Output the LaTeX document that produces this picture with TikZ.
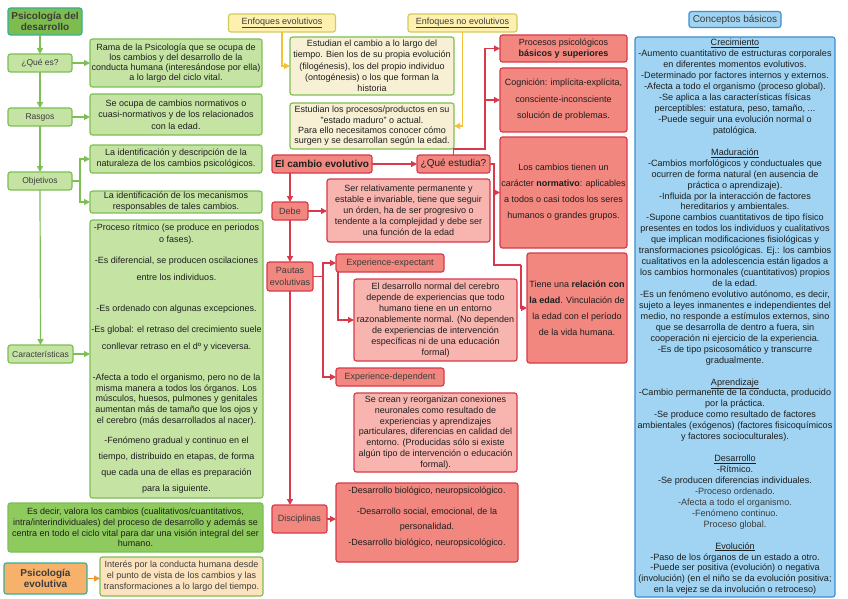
\documentclass[tikz,border=0pt]{standalone}
\usepackage{fontspec}
\setmainfont{Liberation Sans}
\usetikzlibrary{arrows.meta}
\definecolor{txt}{HTML}{1E1E1E}
\definecolor{txtgray}{HTML}{3C3C3C}
\definecolor{gfill}{HTML}{C5E4A4}
\definecolor{gborder}{HTML}{7DBF55}
\definecolor{gdark}{HTML}{7CBD4E}
\definecolor{gmid}{HTML}{8FCA5E}
\definecolor{teal}{HTML}{35B09A}
\definecolor{ofill}{HTML}{F6B26B}
\definecolor{peach}{HTML}{FCE3BE}
\definecolor{yfill}{HTML}{FEF1B0}
\definecolor{yborder}{HTML}{D0CB5E}
\definecolor{cream}{HTML}{F8F0D4}
\definecolor{rfill}{HTML}{F1877F}
\definecolor{pfill}{HTML}{F8B5AF}
\definecolor{rborder}{HTML}{D8394B}
\definecolor{bfill}{HTML}{A0D4F2}
\definecolor{bborder}{HTML}{3D8ED3}
\definecolor{yarrow}{HTML}{F3C13A}
\definecolor{oarrow}{HTML}{F0962E}
\newcommand{\myfs}[2]{\fontsize{#1}{#2}\selectfont}
\begin{document}
\begin{tikzpicture}[x=1pt,y=-1pt,
  box/.style={rounded corners=2.5pt, line width=1.2pt, align=center, inner sep=1pt, outer sep=0pt, text=txt, font=\myfs{9}{11}},
  gbox/.style={box, draw=gborder, fill=gfill},
  glabel/.style={box, draw=gborder, fill=gfill, text=txtgray, font=\myfs{8.5}{10}},
  ybox/.style={box, draw=yborder, fill=yfill, text=txtgray},
  cbox/.style={box, draw=gborder, fill=cream},
  rbox/.style={box, draw=rborder, fill=rfill},
  rlabel/.style={box, draw=rborder, fill=rfill, text=txtgray},
  pbox/.style={box, draw=rborder, fill=pfill},
  bbox/.style={box, draw=bborder, fill=bfill},
  plain/.style={align=center, inner sep=0pt, text=txt, font=\myfs{9}{11}},
  tip/.style={-{Triangle[length=6pt,width=6pt]}},
  garrow/.style={draw=gborder, line width=1.2pt, tip},
  rarrow/.style={draw=rborder, line width=1.2pt, tip},
  rline/.style={draw=rborder, line width=1.2pt},
  yarr/.style={draw=yarrow, line width=1.2pt, tip},
  oarr/.style={draw=oarrow, line width=1.2pt, tip}
]
\useasboundingbox (0,0) rectangle (848,599);
\fill[white] (0,0) rectangle (848,599);

% ---------- left green column ----------
\node[box, draw=teal, fill=gdark, font=\myfs{10}{11.5}\bfseries, text=txtgray, minimum width=74pt, minimum height=27pt] (title) at (45,21.5) {Psicología del\\desarrollo};
\node[glabel, minimum width=64pt, minimum height=18pt] (que) at (40,63) {¿Qué es?};
\node[glabel, minimum width=64pt, minimum height=18pt] (rasgos) at (40,117) {Rasgos};
\node[glabel, minimum width=64pt, minimum height=18pt] (objetivos) at (40,181) {Objetivos};
\node[glabel, minimum width=65pt, minimum height=18pt] (caract) at (40.5,354) {Características};

\node[gbox, font=\myfs{9}{10}, minimum width=172pt, minimum height=48pt] (rama) at (176,63) {Rama de la Psicología que se ocupa de\\los cambios y del desarrollo de la\\conducta humana (interesándose por ella)\\a lo largo del ciclo vital.};
\node[gbox, font=\myfs{9}{11.5}, minimum width=172pt, minimum height=41pt] (ocupa) at (176,114.5) {Se ocupa de cambios normativos o\\cuasi-normativos y de los relacionados\\con la edad.};
\node[gbox, minimum width=172pt, minimum height=28pt] (ident1) at (176,159) {La identificación y descripción de la\\naturaleza de los cambios psicológicos.};
\node[gbox, minimum width=172pt, minimum height=22pt] (ident2) at (176,202) {La identificación de los mecanismos\\responsables de tales cambios.};
\node[gbox, minimum width=173pt, minimum height=278pt] (caracbox) at (176.5,359) {};
\node[plain, font=\myfs{9}{12}] (c1) at (176.5,234) {-Proceso rítmico (se produce en periodos\\o fases).};
\node[plain, font=\myfs{9}{17}] (c2) at (176.5,268.5) {-Es diferencial, se producen oscilaciones\\entre los individuos.};
\node[plain] (c3) at (176.5,309) {-Es ordenado con algunas excepciones.};
\node[plain, font=\myfs{9}{17}] (c4) at (176.5,338.5) {-Es global: el retraso del crecimiento suele\\conllevar retraso en el dº y viceversa.};
\node[plain, font=\myfs{9}{10.75}] (c5) at (176.5,399.5) {-Afecta a todo el organismo, pero no de la\\misma manera a todos los órganos. Los\\músculos, huesos, pulmones y genitales\\aumentan más de tamaño que los ojos y\\el cerebro (más desarrollados al nacer).};
\node[plain, font=\myfs{9}{16}] (c6) at (176.5,465.5) {-Fenómeno gradual y continuo en el\\tiempo, distribuido en etapas, de forma\\que cada una de ellas es preparación\\para la siguiente.};

\node[box, draw=gborder, fill=gmid, font=\myfs{9}{10.7}, minimum width=255pt, minimum height=49pt] (esdecir) at (135.5,527.5) {Es decir, valora los cambios (cualitativos/cuantitativos,\\intra/interindividuales) del proceso de desarrollo y además se\\centra en todo el ciclo vital para dar una visión integral del ser\\humano.};
\node[box, draw=teal, fill=ofill, font=\myfs{10}{11.5}\bfseries, text=txtgray, minimum width=83pt, minimum height=31pt] (psicevo) at (45.5,578.5) {Psicología\\evolutiva};
\node[box, draw=gborder, fill=peach, text=txtgray, minimum width=163pt, minimum height=39pt] (interes) at (181.5,576.5) {Interés por la conducta humana desde\\el punto de vista de los cambios y las\\transformaciones a lo largo del tiempo.};

% green connectors
\draw[garrow] (que.north |- title.south) -- (que.north);
\draw[garrow] (que.south) -- (rasgos.north);
\draw[garrow] (rasgos.south) -- (objetivos.north);
\draw[garrow] (objetivos.south) -- (caract.north);
\draw[garrow] (que.east) -- (que.east -| rama.west);
\draw[garrow] (rasgos.east) -- (rasgos.east -| ocupa.west);
\draw[garrow] (objetivos.east) -- ++(8,0) |- (ident1.west);
\draw[garrow] (objetivos.east) -- ++(8,0) |- (ident2.west);
\draw[garrow] (caract.east) -- (caract.east -| caracbox.west);
\draw[oarr] (psicevo.east) -- (psicevo.east -| interes.west);

% ---------- enfoques ----------
\node[ybox, minimum width=107pt, minimum height=18pt] (enfevo) at (282,23) {\underline{Enfoques evolutivos}};
\node[ybox, minimum width=109pt, minimum height=18pt] (enfnoevo) at (462.5,23) {\underline{Enfoques no evolutivos}};
\node[cbox, font=\myfs{9}{11.3}, minimum width=164pt, minimum height=58pt] (estudian1) at (372,66) {Estudian el cambio a lo largo del\\tiempo. Bien los de su propia evolución\\(filogénesis), los del propio individuo\\(ontogénesis) o los que forman la\\historia};
\node[cbox, font=\myfs{9}{10.4}, minimum width=164pt, minimum height=46pt] (estudian2) at (372,126) {Estudian los procesos/productos en su\\"estado maduro" o actual.\\Para ello necesitamos conocer cómo\\surgen y se desarrollan según la edad.};
\draw[yarr] (enfevo.south) |- (estudian1.west);
\draw[yarr] (enfnoevo.south) |- (estudian2.east);

% ---------- red section ----------
\node[rbox, font=\myfs{10}{12}\bfseries, minimum width=100pt, minimum height=18pt] (cambio) at (322,164) {El cambio evolutivo};
\node[rbox, font=\myfs{10}{12}, minimum width=73pt, minimum height=18pt] (queest) at (453.5,164) {¿Qué estudia?};
\node[rlabel, minimum width=36pt, minimum height=18pt] (debe) at (290,211) {Debe};
\node[pbox, minimum width=163pt, minimum height=63pt] (serrel) at (408.5,210.5) {Ser relativamente permanente y\\estable e invariable, tiene que seguir\\un órden, ha de ser progresivo o\\tendente a la complejidad y debe ser\\una función de la edad};
\node[rlabel, font=\myfs{9}{12}, minimum width=46pt, minimum height=29pt] (pautas) at (290,276.5) {Pautas\\evolutivas};
\node[rlabel, minimum width=108pt, minimum height=18pt] (expexp) at (390,263) {Experience-expectant};
\node[pbox, minimum width=163pt, minimum height=82pt] (desnormal) at (435.5,320) {El desarrollo normal del cerebro\\depende de experiencias que todo\\humano tiene en un entorno\\razonablemente normal. (No dependen\\de experiencias de intervención\\específicas ni de una educación\\formal)};
\node[rlabel, minimum width=108pt, minimum height=18pt] (expdep) at (390,377) {Experience-dependent};
\node[pbox, font=\myfs{9}{10.8}, minimum width=163pt, minimum height=79pt] (secrean) at (435.5,432.5) {Se crean y reorganizan conexiones\\neuronales como resultado de\\experiencias y aprendizajes\\particulares, diferencias en calidad del\\entorno. (Producidas sólo si existe\\algún tipo de intervención o educación\\formal).};
\node[rlabel, minimum width=55pt, minimum height=28pt] (disc) at (299.5,519) {Disciplinas};
\node[rbox, minimum width=182pt, minimum height=79pt] (discbox) at (427,522.5) {};
\node[plain, font=\myfs{9}{15.5}] (dtext) at (427,517) {-Desarrollo biológico, neuropsicológico.\\[5pt]-Desarrollo social, emocional, de la\\personalidad.\\-Desarrollo biológico, neuropsicológico.};

\node[rbox, font=\myfs{9}{10.5}, minimum width=127pt, minimum height=27pt] (procesos) at (563.5,48.5) {Procesos psicológicos\\\textbf{básicos y superiores}};
\node[rbox, font=\myfs{9}{16.5}, minimum width=127pt, minimum height=64pt] (cognicion) at (563.5,100) {Cognición: implícita-explícita,\\consciente-inconsciente\\solución de problemas.};
\node[rbox, font=\myfs{9}{16}, minimum width=127pt, minimum height=111pt] (loscambios) at (563.5,192.5) {Los cambios tienen un\\carácter \textbf{normativo}: aplicables\\a todos o casi todos los seres\\humanos o grandes grupos.};
\node[rbox, font=\myfs{9}{16}, minimum width=100pt, minimum height=110pt] (tiene) at (577,308) {Tiene una \textbf{relación con}\\\textbf{la edad}. Vinculación de\\la edad con el período\\de la vida humana.};

% red connectors
\draw[rarrow] (cambio.east) -- (queest.west);
\draw[rarrow] (debe.north |- cambio.south) -- (debe.north);
\draw[rarrow] (debe.south) -- (pautas.north);
\draw[rarrow] (pautas.south) -- (pautas.south |- disc.north);
\draw[rarrow] (debe.east) -- (debe.east -| serrel.west);
\draw[rarrow] (pautas.east) -- ++(10,0) |- (expexp.west);
\draw[rarrow] (pautas.east) -- ++(10,0) |- (expdep.west);
\draw[rarrow] ([xshift=2pt]expexp.south west) |- (desnormal.west);
\draw[rarrow] (disc.east) -- (disc.east -| discbox.west);
\coordinate (qa) at (485,149);
\draw[rarrow] (queest.north) |- (qa) |- (procesos.west);
\draw[rarrow] (qa) |- (cognicion.west);
\coordinate (qb) at (494,164);
\coordinate (qc) at (494,265);
\coordinate (qd) at (521,265);
\draw[rline] (queest.east) -- (qb) -- (qc) -- (qd);
\draw[rarrow] (qb) |- (loscambios.west);
\draw[rarrow] (qd) |- (tiene.west);

% ---------- blue ----------
\node[bbox, font=\myfs{10}{12}, text=txtgray, minimum width=92pt, minimum height=16pt] (concepts) at (735,19.5) {Conceptos básicos};
\node[bbox, font=\myfs{9.1}{10.94}, minimum width=200pt, minimum height=560pt] (bluebox) at (735,317) {\underline{Crecimiento}\\
-Aumento cuantitativo de estructuras corporales\\
en diferentes momentos evolutivos.\\
-Determinado por factores internos y externos.\\
-Afecta a todo el organismo (proceso global).\\
-Se aplica a las características físicas\\
perceptibles: estatura, peso, tamaño, ...\\
-Puede seguir una evolución normal o\\
patológica.\\[10.94pt]
\underline{Maduración}\\
-Cambios morfológicos y conductuales que\\
ocurren de forma natural (en ausencia de\\
práctica o aprendizaje).\\
-Influida por la interacción de factores\\
hereditarios y ambientales.\\
-Supone cambios cuantitativos de tipo físico\\
presentes en todos los individuos y cualitativos\\
que implican modificaciones fisiológicas y\\
transformaciones psicológicas. Ej.: los cambios\\
cualitativos en la adolescencia están ligados a\\
los cambios hormonales (cuantitativos) propios\\
de la edad.\\
-Es un fenómeno evolutivo autónomo, es decir,\\
sujeto a leyes inmanentes e independientes del\\
medio, no responde a estímulos externos, sino\\
que se desarrolla de dentro a fuera, sin\\
cooperación ni ejercicio de la experiencia.\\
-Es de tipo psicosomático y transcurre\\
gradualmente.\\[10.94pt]
\underline{Aprendizaje}\\
-Cambio permanente de la conducta, producido\\
por la práctica.\\
-Se produce como resultado de factores\\
ambientales (exógenos) (factores fisicoquímicos\\
y factores socioculturales).\\[10.94pt]
\underline{Desarrollo}\\
-Rítmico.\\
-Se producen diferencias individuales.\\
{\color{txtgray}-Proceso ordenado.}\\
{\color{txtgray}-Afecta a todo el organismo.}\\
{\color{txtgray}-Fenómeno continuo.}\\
{\color{txtgray}Proceso global.}\\[10.94pt]
\underline{Evolución}\\
-Paso de los órganos de un estado a otro.\\
-Puede ser positiva (evolución) o negativa\\
(involución) (en el niño se da evolución positiva;\\
en la vejez se da involución o retroceso)};
\end{tikzpicture}
\end{document}
